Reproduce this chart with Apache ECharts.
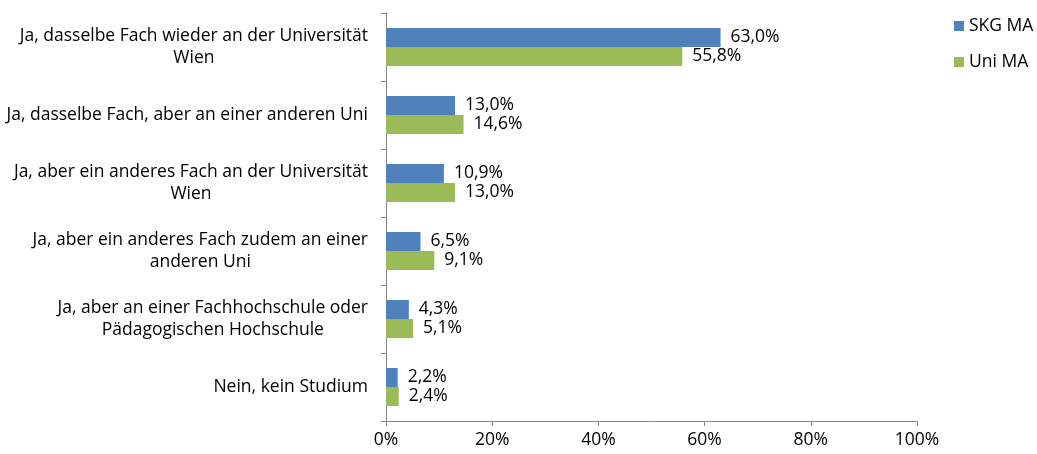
<!DOCTYPE html>
<html>
<head>
<meta charset="utf-8">
<script src="https://cdn.jsdelivr.net/npm/echarts@6/dist/echarts.min.js"></script>
<style>
  html, body { margin: 0; padding: 0; background: #fff; }
  #chart { width: 1037px; height: 454px; }
</style>
</head>
<body>
<div id="chart"></div>
<script>
var categories = [
    'Ja, dasselbe Fach wieder an der Universität\nWien',
    'Ja, dasselbe Fach, aber an einer anderen Uni',
    'Ja, aber ein anderes Fach an der Universität\nWien',
    'Ja, aber ein anderes Fach zudem an einer\nanderen Uni',
    'Ja, aber an einer Fachhochschule oder\nPädagogischen Hochschule',
    'Nein, kein Studium'
];
var skgValues = [63.0, 13.0, 10.9, 6.5, 4.3, 2.2];
var uniValues = [55.8, 14.6, 13.0, 9.1, 5.1, 2.4];
var seriesNames = ['SKG MA', 'Uni MA'];
var xTicks = [0, 20, 40, 60, 80, 100];

var font = 'Open Sans';
var fontSize = 17.5;

var myChart = echarts.init(document.getElementById('chart'));

function pct(v) {   // 63.0 -> "63,0%"
    return v.toFixed(1).replace('.', ',') + '%';
}

var barLabel = {
    show: true,
    position: 'right',
    distance: 10,
    color: '#000',
    fontFamily: font,
    fontSize: fontSize,
    formatter: function (p) { return pct(p.value); }
};

var option = {
    backgroundColor: '#fff',
    animation: false,
    grid: {
        left: 386,
        right: 120,
        top: 13,
        bottom: 33
    },
    legend: {
        orient: 'vertical',
        left: 954,
        top: 17,
        padding: 0,
        itemWidth: 10,
        itemHeight: 10,
        itemGap: 18,
        icon: 'rect',
        textStyle: {
            color: '#000',
            fontFamily: font,
            fontSize: fontSize
        },
        data: seriesNames
    },
    xAxis: {
        type: 'value',
        min: xTicks[0],
        max: xTicks[xTicks.length - 1],
        interval: 20,
        axisLine: { show: true, lineStyle: { color: '#868686', width: 1 } },
        axisTick: { show: true, length: 5, lineStyle: { color: '#868686' } },
        splitLine: { show: false },
        axisLabel: {
            margin: 10,
            color: '#000',
            fontFamily: font,
            fontSize: fontSize,
            formatter: function (v) { return v + '%'; }
        }
    },
    yAxis: {
        type: 'category',
        inverse: true,
        data: categories,
        axisLine: { show: true, lineStyle: { color: '#868686', width: 1 } },
        axisTick: { show: true, length: 5, lineStyle: { color: '#868686' } },
        axisLabel: {
            margin: 18,
            color: '#000',
            fontFamily: font,
            fontSize: fontSize,
            lineHeight: 22,
            formatter: function (v) {
                return v.split('\n').map(function (s) { return '{c|' + s + '}'; }).join('\n');
            },
            rich: {
                c: {
                    align: 'center',
                    color: '#000',
                    fontFamily: font,
                    fontSize: fontSize,
                    lineHeight: 22
                }
            }
        }
    },
    series: [
        {
            name: seriesNames[0],
            type: 'bar',
            barWidth: 19,
            barGap: '0%',
            itemStyle: { color: '#4F81BD' },
            label: barLabel,
            data: skgValues
        },
        {
            name: seriesNames[1],
            type: 'bar',
            barWidth: 19,
            barGap: '0%',
            itemStyle: { color: '#9BBB59' },
            label: barLabel,
            data: uniValues
        }
    ]
};
myChart.setOption(option);
</script>
</body>
</html>
